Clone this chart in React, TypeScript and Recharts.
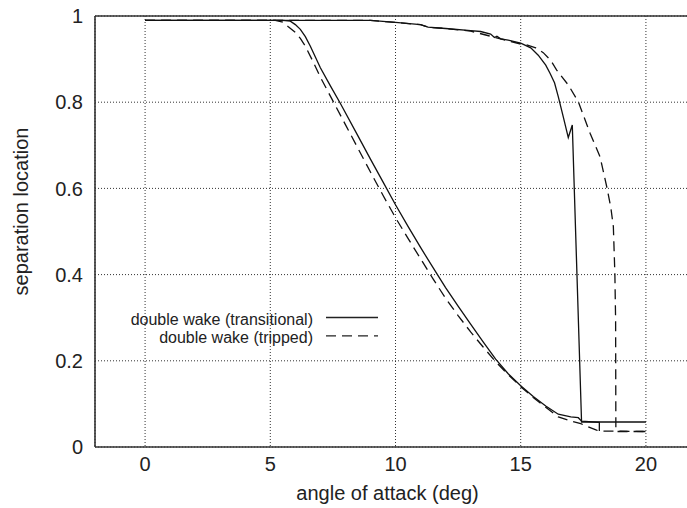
import { LineChart, Line, XAxis, YAxis, CartesianGrid, Legend } from 'recharts'

const X_TICKS = [0, 5, 10, 15, 20]
const Y_TICKS = [0, 0.2, 0.4, 0.6, 0.8, 1]

// transitional, suction-side branch
const transUpperX = [0, 9, 10, 11, 11.3, 12, 13, 13.4, 13.8, 13.95, 14.05, 14.2, 14.5, 15, 15.4, 15.7, 16, 16.17, 16.35, 16.5, 16.7, 16.9, 17.06, 17.43, 20]
const transUpperY = [0.99, 0.99, 0.985, 0.98, 0.974, 0.971, 0.966, 0.964, 0.958, 0.95, 0.953, 0.947, 0.944, 0.937, 0.926, 0.909, 0.886, 0.867, 0.845, 0.813, 0.766, 0.718, 0.747, 0.058, 0.058]
// transitional, pressure-side branch
const transLowerX = [0, 5.5, 5.8, 6.0, 6.2, 6.4, 6.6, 6.8, 7.0, 7.4, 7.8, 8.5, 9, 9.5, 10, 10.5, 11, 11.5, 12, 12.5, 13, 13.5, 14, 14.5, 15, 15.5, 16, 16.5, 17, 17.3, 17.43, 18.14, 18.14]
const transLowerY = [0.99, 0.99, 0.988, 0.98, 0.969, 0.952, 0.93, 0.905, 0.88, 0.838, 0.797, 0.722, 0.668, 0.615, 0.562, 0.512, 0.463, 0.416, 0.37, 0.327, 0.285, 0.244, 0.204, 0.17, 0.142, 0.117, 0.095, 0.076, 0.07, 0.068, 0.06, 0.057, 0.037]
// tripped, suction-side branch
const tripUpperX = [0, 9, 10, 11, 11.3, 12, 13, 14, 15, 15.24, 15.6, 15.9, 16.2, 16.43, 16.9, 17.3, 17.77, 18.17, 18.45, 18.6, 18.7, 18.76, 18.79, 18.8, 20]
const tripUpperY = [0.99, 0.99, 0.985, 0.98, 0.974, 0.971, 0.965, 0.95, 0.935, 0.933, 0.926, 0.915, 0.897, 0.875, 0.84, 0.801, 0.728, 0.673, 0.6, 0.555, 0.511, 0.403, 0.294, 0.036, 0.036]
// tripped, pressure-side branch
const tripLowerX = [0, 5.2, 5.5, 5.72, 6.0, 6.2, 6.4, 6.7, 7.0, 7.5, 8, 8.5, 9, 9.5, 10, 10.5, 11, 11.5, 12, 12.5, 13, 13.5, 14, 14.5, 15, 15.5, 16, 16.5, 17, 17.4, 18.03, 18.14, 20]
const tripLowerY = [0.99, 0.99, 0.986, 0.975, 0.962, 0.948, 0.93, 0.895, 0.858, 0.803, 0.748, 0.693, 0.638, 0.584, 0.532, 0.484, 0.437, 0.39, 0.345, 0.305, 0.267, 0.232, 0.198, 0.168, 0.14, 0.115, 0.092, 0.07, 0.06, 0.054, 0.039, 0.037, 0.036]

const SERIES_NAMES = ['double wake (transitional)', 'double wake (tripped)']

const toPoints = (xs: number[], ys: number[]) => xs.map((x, i) => ({ x, y: ys[i] }))

const INK = '#222'
const FONT = '"Liberation Sans", Arial, Helvetica, sans-serif'
const DASH = '10 6'

const NoTick = () => <g />

function LegendBox() {
  return (
    <svg width={270} height={44} style={{ fontFamily: FONT }}>
      {SERIES_NAMES.map((name, i) => (
        <g key={name}>
          <text x={193} y={14 + i * 18.4} textAnchor="end" dominantBaseline="central" fontSize={16} fill={INK}>
            {name}
          </text>
          <line
            x1={206}
            x2={258}
            y1={12.5 + i * 18.4}
            y2={12.5 + i * 18.4}
            stroke={INK}
            strokeWidth={1.3}
            strokeDasharray={i === 1 ? DASH : undefined}
          />
        </g>
      ))}
    </svg>
  )
}

export default function App() {
  const lines = [
    { key: 'tu', data: toPoints(transUpperX, transUpperY), dash: undefined },
    { key: 'tl', data: toPoints(transLowerX, transLowerY), dash: undefined },
    { key: 'pu', data: toPoints(tripUpperX, tripUpperY), dash: DASH },
    { key: 'pl', data: toPoints(tripLowerX, tripLowerY), dash: DASH },
  ]

  return (
    <div style={{ position: 'absolute', left: 0, top: 0, width: 687, height: 508, overflow: 'hidden', background: '#fff', fontFamily: FONT }}>
      <LineChart width={696} height={508} margin={{ top: 16, right: 0, bottom: 0, left: 0 }}>
        <CartesianGrid xAxisId="x" yAxisId="y" stroke="#333" strokeDasharray="1 2" />
        <XAxis
          xAxisId="x"
          dataKey="x"
          type="number"
          domain={[-2, 22]}
          ticks={X_TICKS}
          height={61}
          tickLine={false}
          tickSize={6}
          tickMargin={4}
          axisLine={{ stroke: '#333', strokeWidth: 1.6 }}
          tick={{ fontSize: 20, fill: INK, fontFamily: FONT }}
          label={{
            content: (p: any) => {
              const vb = p.viewBox || { x: 95, width: 601 }
              return (
                <text x={vb.x + vb.width / 2 - 8} y={500} textAnchor="middle" fontSize={20} fill={INK} fontFamily={FONT}>
                  angle of attack (deg)
                </text>
              )
            },
          }}
        />
        <XAxis
          xAxisId="xb"
          type="number"
          orientation="bottom"
          mirror
          domain={[-2, 22]}
          ticks={X_TICKS}
          axisLine={false}
          tickSize={6}
          tickLine={{ stroke: '#333', strokeWidth: 1.4 }}
          tick={NoTick}
        />
        <XAxis
          xAxisId="xt"
          type="number"
          orientation="top"
          mirror
          domain={[-2, 22]}
          ticks={X_TICKS}
          axisLine={{ stroke: '#333', strokeWidth: 1.6 }}
          tickSize={6}
          tickLine={{ stroke: '#333', strokeWidth: 1.4 }}
          tick={NoTick}
        />
        <YAxis
          yAxisId="y"
          type="number"
          domain={[0, 1]}
          ticks={Y_TICKS}
          width={95}
          tickLine={false}
          tickSize={6}
          tickMargin={6}
          axisLine={{ stroke: '#333', strokeWidth: 1.6 }}
          tick={{ fontSize: 20, fill: INK, fontFamily: FONT }}
          label={{
            content: (p: any) => {
              const vb = p.viewBox || { x: 0, y: 16, height: 431 }
              const cx = vb.x + 21
              const cy = vb.y + vb.height / 2 - 20
              return (
                <text x={cx} y={cy} transform={`rotate(-90 ${cx} ${cy})`} textAnchor="middle" dominantBaseline="central" fontSize={20} fill={INK} fontFamily={FONT}>
                  separation location
                </text>
              )
            },
          }}
        />
        <YAxis
          yAxisId="yl"
          type="number"
          orientation="left"
          mirror
          domain={[0, 1]}
          ticks={Y_TICKS}
          axisLine={false}
          tickSize={6}
          tickLine={{ stroke: '#333', strokeWidth: 1.4 }}
          tick={NoTick}
        />
        <Legend
          layout="vertical"
          align="center"
          verticalAlign="middle"
          wrapperStyle={{ left: 120, top: 305, width: 270 }}
          content={() => <LegendBox />}
        />
        {lines.map((l) => (
          <Line
            key={l.key}
            xAxisId="x"
            yAxisId="y"
            data={l.data}
            dataKey="y"
            type="linear"
            stroke="#111"
            strokeWidth={1.3}
            strokeDasharray={l.dash}
            dot={false}
            activeDot={false}
            legendType="none"
            isAnimationActive={false}
          />
        ))}
      </LineChart>
    </div>
  )
}
